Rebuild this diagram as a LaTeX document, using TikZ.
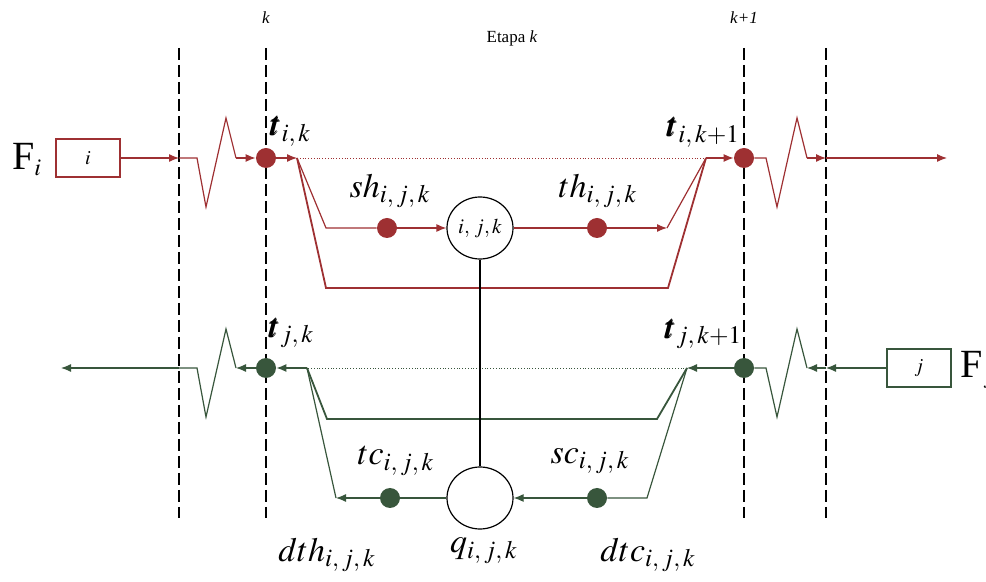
\documentclass[tikz,border=0pt]{standalone}
\usepackage{amsmath,amssymb}
\usepackage{mathptmx}
\usepackage{bm}
\usepackage{fontspec}
\setmainfont{Liberation Serif}
\usepackage{tikz}
\usetikzlibrary{arrows.meta,calc,positioning,shapes.geometric}
\usepackage{xcolor}
\definecolor{rojo}{RGB}{158,48,50}
\definecolor{verde}{RGB}{56,86,60}

\begin{document}
\begin{tikzpicture}[x=0.5pt, y=-0.5pt,
  flujo/.style={line width=0.6pt},
  flecha/.style={flujo, -{Latex[length=5pt,width=4pt]}},
  retorno/.style={line width=0.9pt},
  punto/.style={circle, inner sep=0pt, minimum size=10pt},
  nodo/.style={draw, ellipse, line width=0.6pt, inner sep=0pt, minimum width=33pt, minimum height=31pt, font=\fontsize{10.5}{12}\selectfont},
  caja/.style={draw, line width=0.6pt, minimum width=32pt, minimum height=19pt, font=\fontsize{10}{12}\selectfont},
  corte/.style={line width=0.7pt, dash pattern=on 6pt off 2.5pt},
  eti/.style={font=\fontsize{17}{20}\selectfont},
  marca/.style={font=\fontsize{8.5}{10}\selectfont},
  flujoname/.style={font=\fontsize{20}{24}\selectfont}]

\useasboundingbox (0,0) rectangle (986,582);

% etapas
\foreach \x in {179,266,744,826}
  \draw[corte] (\x,48) -- (\x,518);
\node[marca] (Lk) at (266,18) {\textit{k}};
\node[marca] (Lk1) at (744,18) {\textit{k+1}};
\node[marca] (Etapa) at (512,38) {Etapa \textit{k}};

% corriente caliente i
\node[flujoname] (Fi) at (27,160) {F$_{\scriptscriptstyle i}$};
\node[caja, draw=rojo] (Bi) at (88,158) {$i$};
\node[punto, fill=rojo] (Tik) at (266,158) {};
\node[punto, fill=rojo] (Tik1) at (744,158) {};
\node[nodo] (N) at (480,228) {$i,\,j,k$};
\node[punto, fill=rojo] (Sh) at (387,228) {};
\node[punto, fill=rojo] (Th) at (597,228) {};
\coordinate (a1) at (179,158);
\coordinate (a2) at (236,158);
\coordinate (s1) at (297,158);
\coordinate (s2) at (706,158);
\coordinate (sa) at (326,228);
\coordinate (sb) at (667,228);
\coordinate (a3) at (766,158);
\coordinate (a4) at (826,158);
\coordinate (fin) at (947,158);

\draw[flecha, rojo] (Bi.east) -- (a1);
\draw[flujo, rojo] (a1) -- ++(18,0) -- ++(9,49) -- ++(20,-89) -- (a2);
\draw[flecha, rojo] (a2) -- (Tik);
\draw[flecha, rojo] (Tik) -- (s1);
\draw[rojo, line width=0.4pt, densely dotted] (s1) -- (s2);
\draw[flujo, rojo] (s1) -- (sa) -- (Sh);
\draw[flecha, rojo] (Sh) -- (N.west);
\draw[flujo, rojo] (N.east) -- (Th);
\draw[flecha, rojo] (Th) -- (sb);
\draw[flujo, rojo] (sb) -- (s2);
\draw[retorno, rojo] (s1) -- (326,288) -- (668,288) -- (s2);
\draw[flecha, rojo] (s2) -- (Tik1);
\draw[flujo, rojo] (Tik1) -- (a3) -- ++(11,49) -- ++(20,-89) -- ++(10,40);
\draw[flecha, rojo] (807,158) -- (a4);
\draw[flecha, rojo] (a4) -- (fin);

\node[eti] (LTik) at (290,131) {$\bm{t}_{i,\,k}$};
\node[eti] (LTik1) at (703,132) {$\bm{t}_{i,\,k+1}$};
\node[eti] (LSh) at (390,191) {$sh_{i,\,j,\,k}$};
\node[eti] (LTh) at (598,191) {$th_{i,\,j,\,k}$};

% corriente fria j
\node[flujoname] (Fj) at (978,370) {F$_{\scriptscriptstyle j}$};
\node[caja, draw=verde] (Bj) at (919,368) {$j$};
\node[punto, fill=verde] (Tjk) at (266,368) {};
\node[punto, fill=verde] (Tjk1) at (744,368) {};
\node[nodo] (Q) at (480,498) {};
\node[punto, fill=verde] (Tc) at (390,498) {};
\node[punto, fill=verde] (Sc) at (597,498) {};
\coordinate (b1) at (826,368);
\coordinate (b2) at (807,368);
\coordinate (g2) at (687,368);
\coordinate (g1) at (307,368);
\coordinate (b3) at (236,368);
\coordinate (b4) at (179,368);
\coordinate (ini) at (61,368);
\coordinate (ga) at (647,498);
\coordinate (gb) at (336,498);

\draw[flecha, verde] (Bj.west) -- (b1);
\draw[flecha, verde] (b1) -- (b2);
\draw[flujo, verde] (b2) -- ++(-10,-39) -- ++(-20,88) -- ++(-11,-49) -- (Tjk1);
\draw[flecha, verde] (Tjk1) -- (g2);
\draw[verde, line width=0.4pt, densely dotted] (g2) -- (g1);
\draw[flecha, verde] (g1) -- (Tjk);
\draw[flecha, verde] (Tjk) -- (b3);
\draw[flujo, verde] (b3) -- ++(-10,-39) -- ++(-20,88) -- ++(-9,-49) -- (b4);
\draw[flecha, verde] (b4) -- (ini);
\draw[retorno, verde] (g2) -- (657,419) -- (327,419) -- (g1);
\draw[flujo, verde] (g2) -- (ga) -- (Sc);
\draw[flecha, verde] (Sc) -- (Q.east);
\draw[flujo, verde] (Q.west) -- (Tc);
\draw[flecha, verde] (Tc) -- (gb);
\draw[flujo, verde] (gb) -- (g1);

\node[eti] (LTjk) at (291,333) {$\bm{t}_{j,\,k}$};
\node[eti] (LTjk1) at (703,334) {$\bm{t}_{j,\,k+1}$};
\node[eti] (LTc) at (396,461) {$tc_{i,\,j,\,k}$};
\node[eti] (LSc) at (590,461) {$sc_{i,\,j,\,k}$};

% intercambiador
\draw[line width=1pt] (N.south) -- (Q.north);
\node[eti] (LDth) at (327,555) {$dth_{i,\,j,\,k}$};
\node[eti] (LQ) at (484,551) {$q_{i,\,j,\,k}$};
\node[eti] (LDtc) at (648,555) {$dtc_{i,\,j,\,k}$};

\end{tikzpicture}
\end{document}
